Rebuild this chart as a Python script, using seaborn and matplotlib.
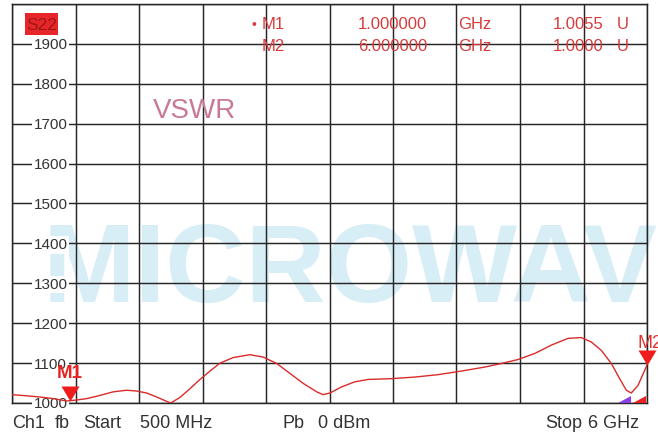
import matplotlib
matplotlib.use("Agg")
import matplotlib.pyplot as plt
import matplotlib.transforms as mtransforms
from matplotlib.patches import Polygon, Rectangle
import numpy as np
import pandas as pd
import seaborn as sns

# ---------------- data ----------------
freq_ghz = [0.500, 0.627, 0.743, 0.858, 0.974, 1.046, 1.147, 1.262, 1.377, 1.493,
            1.580, 1.667, 1.753, 1.840, 1.875, 1.955, 2.042, 2.128, 2.215, 2.302,
            2.417, 2.561, 2.677, 2.793, 2.908, 3.023, 3.139, 3.194, 3.254, 3.352,
            3.468, 3.583, 3.785, 3.988, 4.190, 4.391, 4.594, 4.738, 4.883, 5.027,
            5.171, 5.316, 5.431, 5.517, 5.604, 5.691, 5.763, 5.821, 5.864, 5.922,
            5.980, 6.000]
vswr_milli = [1021, 1018, 1015, 1011, 1005, 1007, 1011, 1019, 1028, 1032,
              1030, 1025, 1015, 1004, 1000, 1014, 1036, 1059, 1080, 1100,
              1114, 1121, 1115, 1099, 1074, 1049, 1028, 1021, 1025, 1040,
              1053, 1059, 1061, 1065, 1071, 1080, 1090, 1099, 1109, 1124,
              1145, 1162, 1164, 1153, 1132, 1099, 1061, 1032, 1025, 1044,
              1082, 1095]

y_ticks = [1000, 1100, 1200, 1300, 1400, 1500, 1600, 1700, 1800, 1900, 2000]
y_tick_labels = ["1000", "1100", "1200", "1300", "1400", "1500", "1600", "1700", "1800", "1900"]
x_ticks = [0.5, 1.05, 1.6, 2.15, 2.7, 3.25, 3.8, 4.35, 4.9, 5.45, 6.0]

marker_names = ["M1", "M2"]
marker_freq = [1.0, 6.0]
marker_trace = [1005.5, 1095]
marker_freq_text = ["1.000000", "6.000000"]
marker_unit = ["GHz", "GHz"]
marker_value_text = ["1.0055", "1.0000"]
marker_value_unit = ["U", "U"]

channel_label = "S22"
format_label = "VSWR"
watermark = "MICROWAVE"
status_texts = ["Ch1", "fb", "Start", "500 MHz", "Pb", "0 dBm", "Stop", "6 GHz"]

# ---------------- style ----------------
sns.set_style("white")
plt.rcParams["font.family"] = ["Liberation Sans", "DejaVu Sans"]

W, H = 658, 432
fig = plt.figure(figsize=(W / 100, H / 100), dpi=100)
fig.patch.set_facecolor("white")

def fx(px):
    return px / W

def fy(py):
    return 1 - py / H

ax = fig.add_axes([fx(12), fy(403), 635 / W, 399 / H])
ax.set_facecolor("white")

grid_col = "#262626"
df = pd.DataFrame({"freq": freq_ghz, "vswr": vswr_milli})
sns.lineplot(data=df, x="freq", y="vswr", ax=ax, color="#d92b2b", lw=1.0,
             estimator=None, sort=False, zorder=5)

ax.set_xlim(0.5, 6.0)
ax.set_ylim(1000, 2000)
ax.set_xticks(x_ticks)
ax.set_yticks(y_ticks)
ax.set_axisbelow(True)
ax.grid(True, color=grid_col, lw=1.05)
ax.tick_params(length=0, labelleft=False, labelbottom=False)
ax.set_xlabel("")
ax.set_ylabel("")
for s in ax.spines.values():
    s.set_visible(True)
    s.set_color(grid_col)
    s.set_linewidth(1.05)

# watermark (under grid)
ax.text((43 - 12) / 635, (403 - 302) / 399, watermark, transform=ax.transAxes,
        fontsize=80, fontweight="bold", color="#d8eef6", ha="left", va="baseline",
        zorder=0.3, clip_on=False)

# y tick labels inside plot with white boxes
blend = mtransforms.blended_transform_factory(ax.transAxes, ax.transData)
for v, lab in zip(y_ticks, y_tick_labels):
    ax.text((50.5 - 12) / 635, v, lab, transform=blend, ha="center",
            va="center_baseline", fontsize=11, color="#333333", zorder=3,
            bbox=dict(facecolor="white", edgecolor="none", pad=1.2), clip_on=False)

# format label
fig.text(fx(153), fy(108), format_label, fontsize=20, color="#c97a92",
         ha="left", va="center_baseline")

# channel badge
fig.patches.append(Rectangle((fx(25), fy(35)), 33 / W, 22 / H, transform=fig.transFigure,
                             facecolor="#e8262a", edgecolor="none"))
fig.text(fx(41.5), fy(24.5), channel_label, fontsize=12.5, color="#9e1717",
         ha="center", va="center_baseline")

# marker readout table
red_txt = "#d63b3b"
row_y = [23, 45]
for i in range(2):
    y = fy(row_y[i])
    if i == 0:
        fig.text(fx(251), y, "•", fontsize=10, color=red_txt, ha="left", va="center_baseline")
    fig.text(fx(262), y, marker_names[i], fontsize=12, color=red_txt, ha="left", va="center_baseline")
    fig.text(fx(358), y, marker_freq_text[i], fontsize=12, color=red_txt, ha="left", va="center_baseline")
    fig.text(fx(458), y, marker_unit[i], fontsize=12, color=red_txt, ha="left", va="center_baseline")
    fig.text(fx(604), y, marker_value_text[i], fontsize=12, color=red_txt, ha="right", va="center_baseline")
    fig.text(fx(617), y, marker_value_unit[i], fontsize=12, color=red_txt, ha="left", va="center_baseline")

# marker triangles (tip on trace)
tri = [(-0.6, 1.0), (0.6, 1.0), (0.0, 0.0)]
ax.plot(marker_freq, marker_trace, linestyle="none", marker=tri, ms=21.6,
        color="#ee1c1c", mec="none", clip_on=False, zorder=6)
ax.annotate(marker_names[0], xy=(marker_freq[0], marker_trace[0]), xytext=(0, 21),
            textcoords="offset points", ha="center", va="center_baseline",
            fontsize=13.5, fontweight="bold", color="#e62222", zorder=7,
            annotation_clip=False)
ax.annotate(marker_names[1], xy=(marker_freq[1], marker_trace[1]), xytext=(2, 17),
            textcoords="offset points", ha="center", va="center_baseline",
            fontsize=13, color="#e23030", zorder=7, annotation_clip=False)

# stimulus indicator glyphs bottom-right
def axp(px, py):
    return ((px - 12) / 635, (403 - py) / 399)

ax.add_patch(Polygon([axp(618, 403), axp(631, 403), axp(631, 396)], closed=True,
                     transform=ax.transAxes, facecolor="#8a3fe0", edgecolor="none", zorder=6))
ax.add_patch(Polygon([axp(633, 403), axp(646, 403), axp(646, 396)], closed=True,
                     transform=ax.transAxes, facecolor="#ee2020", edgecolor="none", zorder=6))

# status bar
status_x = [12, 55, 83, 140, 282, 318, 545, 588]
for x, t in zip(status_x, status_texts):
    fig.text(fx(x), fy(421), t, fontsize=13, color="#333333", ha="left", va="center_baseline")

fig.savefig("out.png", dpi=100, facecolor="white")
